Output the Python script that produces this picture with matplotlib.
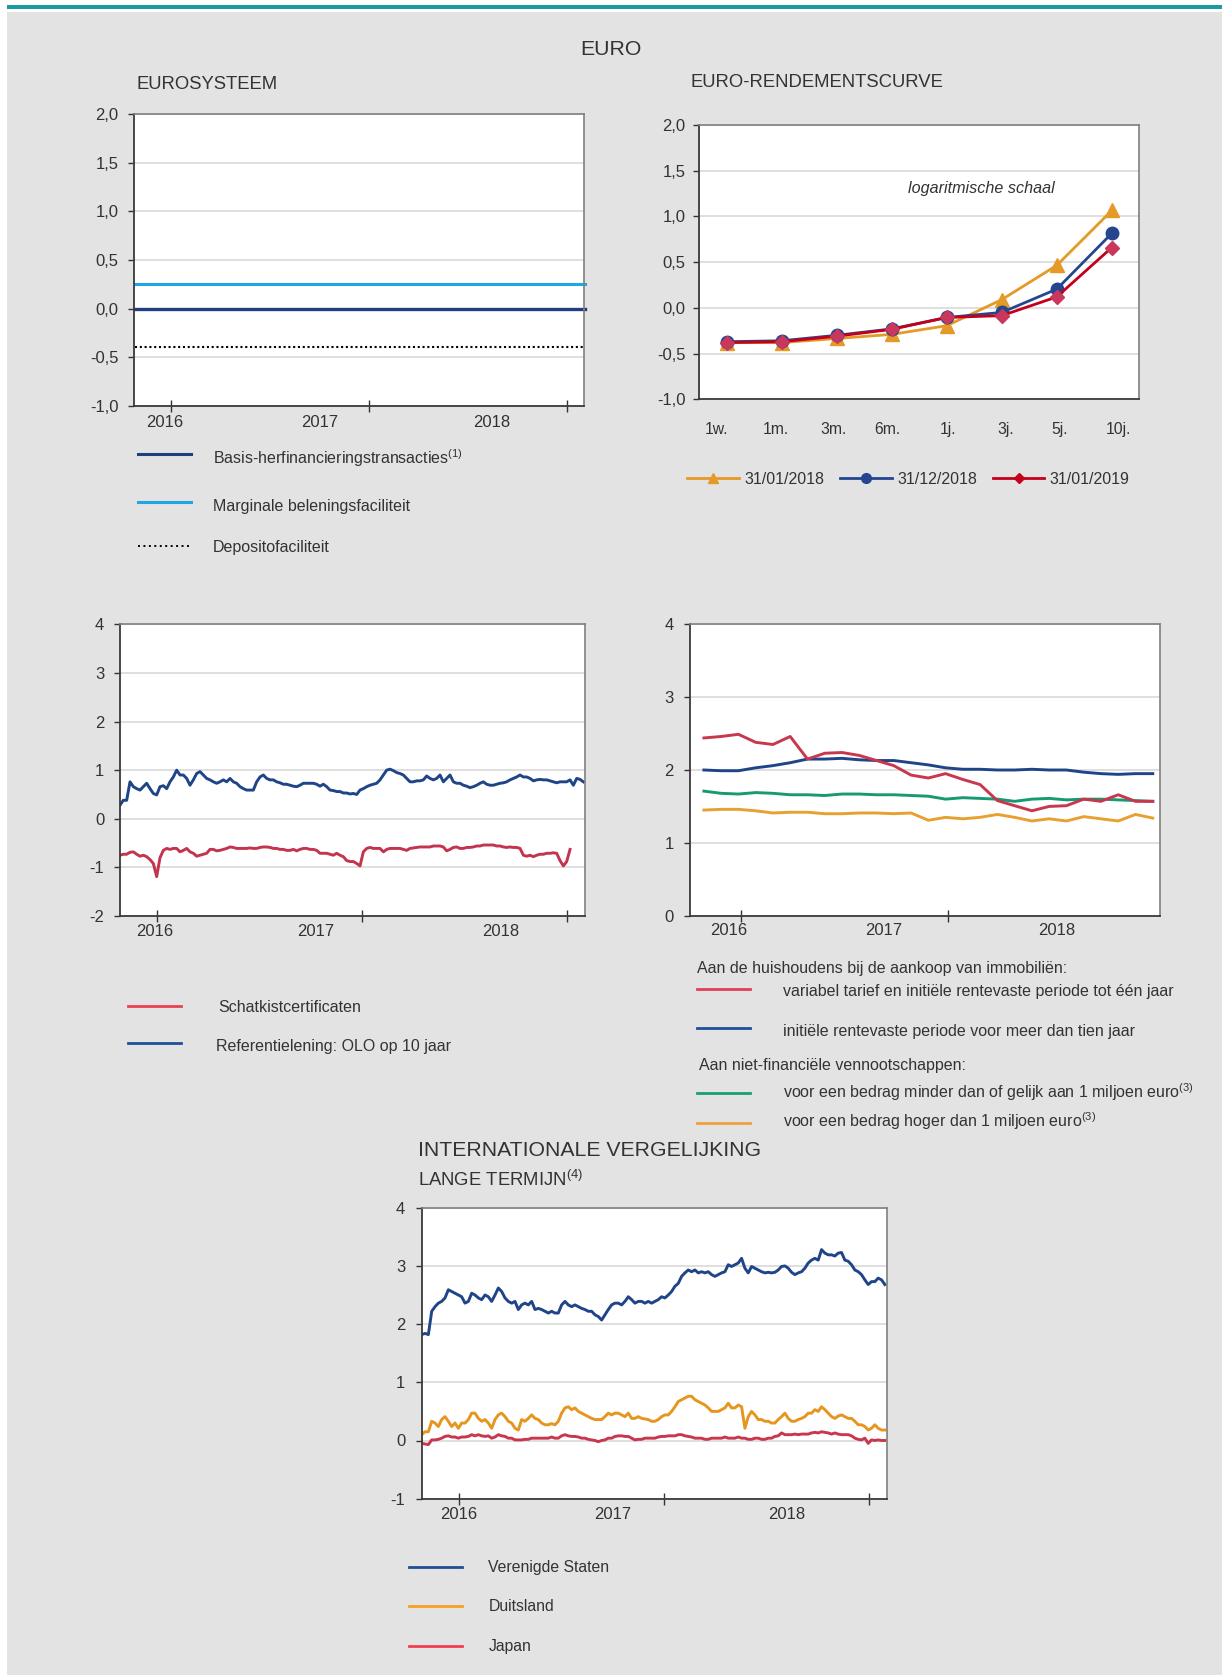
import numpy as np
import matplotlib
matplotlib.use('Agg')
import matplotlib.pyplot as plt
from matplotlib.lines import Line2D
from matplotlib.patches import Rectangle

plt.rcParams['font.family'] = ['Liberation Sans', 'DejaVu Sans']
plt.rcParams['mathtext.fontset'] = 'custom'
plt.rcParams['mathtext.rm'] = 'Liberation Sans'
plt.rcParams['mathtext.it'] = 'Liberation Sans:italic'
plt.rcParams['axes.unicode_minus'] = False

W, H = 1222, 1675
TXT = '#333333'

# ---------------- data ----------------
# Eurosysteem: policy rates, flat over the whole period
ecb_dates = [2015.82, 2018.09]
basis_rate = [0.00, 0.00]
marginal_rate = [0.25, 0.25]
deposit_rate = [-0.40, -0.40]

# Euro yield curve
maturities = ['1w.', '1m.', '3m.', '6m.', '1j.', '3j.', '5j.', '10j.']
curve_jan18 = [-0.38, -0.38, -0.335, -0.29, -0.195, 0.09, 0.465, 1.065]
curve_dec18 = [-0.37, -0.36, -0.30, -0.23, -0.105, -0.05, 0.205, 0.815]
curve_jan19 = [-0.38, -0.37, -0.31, -0.235, -0.105, -0.085, 0.12, 0.66]

# Belgian rates (daily, sampled)
olo_start, olo_end = 2015.818, 2018.078
olo_10y = [
    0.28, 0.38, 0.38, 0.76, 0.66, 0.62, 0.59, 0.66, 0.73, 0.62,
    0.52, 0.49, 0.66, 0.68, 0.62, 0.76, 0.86, 1.00, 0.90, 0.90,
    0.83, 0.69, 0.80, 0.93, 0.97, 0.90, 0.83, 0.80, 0.76, 0.73,
    0.76, 0.80, 0.76, 0.83, 0.76, 0.73, 0.66, 0.62, 0.59, 0.59,
    0.59, 0.76, 0.86, 0.90, 0.83, 0.80, 0.80, 0.76, 0.74, 0.71,
    0.71, 0.69, 0.67, 0.66, 0.69, 0.73, 0.73, 0.73, 0.73, 0.71,
    0.67, 0.71, 0.66, 0.59, 0.58, 0.56, 0.56, 0.53, 0.53, 0.51,
    0.52, 0.50, 0.59, 0.62, 0.66, 0.69, 0.71, 0.73, 0.80, 0.90,
    1.00, 1.02, 0.99, 0.95, 0.93, 0.90, 0.83, 0.76, 0.76, 0.78,
    0.78, 0.80, 0.88, 0.83, 0.80, 0.83, 0.90, 0.76, 0.83, 0.90,
    0.76, 0.73, 0.73, 0.69, 0.67, 0.64, 0.66, 0.69, 0.73, 0.76,
    0.71, 0.69, 0.69, 0.71, 0.73, 0.74, 0.76, 0.80, 0.83, 0.86,
    0.90, 0.86, 0.86, 0.83, 0.78, 0.80, 0.81, 0.80, 0.80, 0.78,
    0.76, 0.74, 0.76, 0.76, 0.76, 0.80, 0.69, 0.83, 0.81, 0.76]

tbill_start, tbill_end = 2015.818, 2018.013
tbill = [
    -0.75, -0.73, -0.73, -0.69, -0.68, -0.73, -0.77, -0.75, -0.78, -0.84,
    -0.92, -1.19, -0.80, -0.65, -0.61, -0.63, -0.61, -0.61, -0.68, -0.65,
    -0.61, -0.68, -0.71, -0.77, -0.75, -0.73, -0.71, -0.63, -0.63, -0.66,
    -0.65, -0.63, -0.61, -0.58, -0.59, -0.61, -0.61, -0.61, -0.61, -0.60,
    -0.61, -0.61, -0.59, -0.58, -0.58, -0.59, -0.61, -0.61, -0.63, -0.63,
    -0.65, -0.65, -0.63, -0.66, -0.63, -0.61, -0.61, -0.63, -0.63, -0.65,
    -0.71, -0.71, -0.71, -0.73, -0.75, -0.71, -0.75, -0.78, -0.86, -0.88,
    -0.88, -0.92, -0.97, -0.68, -0.61, -0.59, -0.61, -0.61, -0.61, -0.68,
    -0.63, -0.61, -0.61, -0.61, -0.61, -0.63, -0.65, -0.61, -0.60, -0.59,
    -0.58, -0.58, -0.58, -0.58, -0.56, -0.56, -0.56, -0.58, -0.66, -0.63,
    -0.59, -0.58, -0.61, -0.61, -0.59, -0.59, -0.58, -0.56, -0.56, -0.54,
    -0.54, -0.54, -0.54, -0.56, -0.56, -0.58, -0.59, -0.58, -0.59, -0.59,
    -0.61, -0.75, -0.77, -0.75, -0.78, -0.75, -0.73, -0.73, -0.71, -0.71,
    -0.70, -0.71, -0.86, -0.97, -0.88, -0.63]

# Bank rates (monthly)
bank_start, bank_end = 2015.822, 2017.989
mortgage_variable = [2.44, 2.46, 2.49, 2.38, 2.35, 2.46, 2.15, 2.23, 2.24, 2.20,
                     2.13, 2.06, 1.93, 1.89, 1.95, 1.87, 1.80, 1.58, 1.51, 1.44,
                     1.50, 1.51, 1.60, 1.57, 1.66, 1.57, 1.57]
mortgage_fixed10 = [2.00, 1.99, 1.99, 2.03, 2.06, 2.10, 2.15, 2.15, 2.16, 2.14,
                    2.13, 2.13, 2.10, 2.07, 2.03, 2.01, 2.01, 2.00, 2.00, 2.01,
                    2.00, 2.00, 1.97, 1.95, 1.94, 1.95, 1.95]
corp_small = [1.71, 1.68, 1.67, 1.69, 1.68, 1.66, 1.66, 1.65, 1.67, 1.67,
              1.66, 1.66, 1.65, 1.64, 1.60, 1.62, 1.61, 1.60, 1.57, 1.60,
              1.61, 1.59, 1.60, 1.60, 1.59, 1.58, 1.57]
corp_large = [1.45, 1.46, 1.46, 1.44, 1.41, 1.42, 1.42, 1.40, 1.40, 1.41,
              1.41, 1.40, 1.41, 1.31, 1.35, 1.33, 1.35, 1.39, 1.35, 1.30,
              1.33, 1.30, 1.36, 1.33, 1.30, 1.39, 1.34]

# International long term rates (daily, sampled)
intl_start, intl_end = 2015.816, 2018.076
us_10y = [
    1.82, 1.84, 1.82, 2.22, 2.30, 2.36, 2.39, 2.45, 2.59, 2.56,
    2.53, 2.50, 2.47, 2.36, 2.39, 2.53, 2.50, 2.45, 2.42, 2.50,
    2.47, 2.39, 2.50, 2.62, 2.56, 2.45, 2.39, 2.36, 2.39, 2.25,
    2.33, 2.36, 2.33, 2.39, 2.25, 2.27, 2.25, 2.22, 2.19, 2.22,
    2.19, 2.19, 2.33, 2.39, 2.33, 2.30, 2.33, 2.30, 2.27, 2.25,
    2.22, 2.22, 2.16, 2.13, 2.07, 2.16, 2.25, 2.33, 2.36, 2.36,
    2.33, 2.39, 2.47, 2.42, 2.36, 2.39, 2.39, 2.36, 2.39, 2.36,
    2.39, 2.42, 2.47, 2.45, 2.50, 2.56, 2.65, 2.70, 2.82, 2.88,
    2.93, 2.90, 2.93, 2.88, 2.90, 2.88, 2.90, 2.85, 2.82, 2.85,
    2.88, 2.90, 3.02, 2.99, 3.02, 3.05, 3.13, 2.96, 2.88, 2.99,
    2.96, 2.93, 2.90, 2.88, 2.89, 2.88, 2.89, 2.93, 2.99, 3.00,
    2.96, 2.89, 2.85, 2.88, 2.90, 2.96, 3.05, 3.10, 3.13, 3.10,
    3.28, 3.22, 3.19, 3.19, 3.17, 3.22, 3.23, 3.10, 3.08, 3.02,
    2.93, 2.90, 2.85, 2.76, 2.68, 2.73, 2.73, 2.79, 2.76, 2.68]
de_10y = [
    0.10, 0.15, 0.15, 0.33, 0.30, 0.24, 0.36, 0.41, 0.33, 0.24,
    0.30, 0.21, 0.30, 0.30, 0.36, 0.47, 0.47, 0.38, 0.33, 0.36,
    0.30, 0.21, 0.36, 0.44, 0.47, 0.41, 0.33, 0.30, 0.21, 0.18,
    0.36, 0.33, 0.38, 0.44, 0.38, 0.36, 0.30, 0.27, 0.27, 0.29,
    0.27, 0.33, 0.47, 0.56, 0.58, 0.53, 0.56, 0.50, 0.47, 0.44,
    0.41, 0.38, 0.36, 0.36, 0.36, 0.41, 0.47, 0.44, 0.47, 0.47,
    0.44, 0.41, 0.47, 0.38, 0.38, 0.41, 0.38, 0.37, 0.36, 0.33,
    0.33, 0.36, 0.41, 0.44, 0.44, 0.50, 0.58, 0.67, 0.70, 0.73,
    0.76, 0.76, 0.70, 0.67, 0.64, 0.61, 0.56, 0.50, 0.50, 0.50,
    0.53, 0.56, 0.64, 0.56, 0.56, 0.61, 0.58, 0.21, 0.41, 0.50,
    0.44, 0.36, 0.36, 0.33, 0.33, 0.30, 0.30, 0.36, 0.41, 0.47,
    0.38, 0.33, 0.33, 0.36, 0.38, 0.41, 0.47, 0.47, 0.53, 0.50,
    0.58, 0.53, 0.47, 0.41, 0.38, 0.42, 0.44, 0.41, 0.38, 0.38,
    0.33, 0.27, 0.27, 0.24, 0.18, 0.21, 0.27, 0.21, 0.18, 0.18]
jp_10y = [
    -0.05, -0.06, -0.07, 0.01, 0.01, 0.02, 0.04, 0.07, 0.08, 0.06,
    0.06, 0.04, 0.06, 0.06, 0.07, 0.10, 0.08, 0.10, 0.08, 0.07,
    0.08, 0.04, 0.06, 0.10, 0.08, 0.07, 0.04, 0.04, 0.01, 0.01,
    0.01, 0.02, 0.02, 0.04, 0.04, 0.04, 0.04, 0.04, 0.04, 0.06,
    0.04, 0.04, 0.08, 0.10, 0.08, 0.07, 0.07, 0.06, 0.04, 0.04,
    0.02, 0.01, 0.00, -0.02, 0.00, 0.01, 0.04, 0.04, 0.07, 0.08,
    0.08, 0.07, 0.07, 0.04, 0.01, 0.02, 0.02, 0.04, 0.04, 0.04,
    0.04, 0.06, 0.07, 0.07, 0.08, 0.08, 0.08, 0.10, 0.10, 0.08,
    0.07, 0.06, 0.04, 0.04, 0.04, 0.02, 0.02, 0.04, 0.04, 0.04,
    0.04, 0.06, 0.04, 0.04, 0.04, 0.06, 0.04, 0.04, 0.02, 0.02,
    0.04, 0.04, 0.02, 0.02, 0.04, 0.04, 0.07, 0.08, 0.13, 0.10,
    0.10, 0.10, 0.11, 0.10, 0.11, 0.11, 0.11, 0.13, 0.14, 0.13,
    0.15, 0.14, 0.13, 0.11, 0.13, 0.11, 0.10, 0.10, 0.10, 0.08,
    0.04, 0.02, 0.01, 0.04, -0.05, 0.01, 0.00, 0.01, 0.00, 0.00]

years = ['2016', '2017', '2018']

# ---------------- helpers ----------------
fig = plt.figure(figsize=(W / 100, H / 100), dpi=100)
fig.patch.set_facecolor('white')
fig.patches.append(Rectangle((7 / W, 0), 1 - 7 / W, 1 - 12 / H, transform=fig.transFigure,
                             facecolor='#e3e3e3', edgecolor='none', zorder=-10))
fig.patches.append(Rectangle((7 / W, 1 - 8.7 / H), 1 - 7 / W, 4 / H, transform=fig.transFigure,
                             facecolor='#1a9ba1', edgecolor='none', zorder=-9))


def add_ax(l, t, r, b):
    ax = fig.add_axes([l / W, 1 - b / H, (r - l) / W, (b - t) / H])
    ax.set_facecolor('white')
    for s in ['left', 'bottom']:
        ax.spines[s].set_color('#3a3a3a')
        ax.spines[s].set_linewidth(1.3)
    for s in ['top', 'right']:
        ax.spines[s].set_color('#808080')
        ax.spines[s].set_linewidth(1.2)
    ax.yaxis.grid(True, color='#dcdcdc', lw=1.3)
    ax.set_axisbelow(True)
    return ax


def y_axis(ax, lo, hi, step, comma=False, pad=7):
    ticks = np.arange(lo, hi + step / 2, step)
    ax.set_ylim(lo, hi)
    ax.set_yticks(ticks)
    if comma:
        ax.set_yticklabels([f'{t:.1f}'.replace('.', ',') for t in ticks])
    else:
        ax.set_yticklabels([f'{t:.0f}' for t in ticks])
    ax.tick_params(axis='y', direction='out', length=4.3, width=1, color='#333333',
                   labelsize=12, labelcolor=TXT, pad=pad)


def time_axis(ax, xlim, tick_years, label_pos, pad=6):
    ax.set_xlim(*xlim)
    ax.set_xticks(tick_years)
    ax.set_xticklabels([''] * len(tick_years))
    ax.tick_params(axis='x', which='major', direction='inout', length=8.5, width=1,
                   color='#333333')
    ax.set_xticks(label_pos, minor=True)
    ax.set_xticklabels(years, minor=True)
    ax.tick_params(axis='x', which='minor', length=0, labelsize=12, labelcolor=TXT, pad=pad)


def ftext(x, y, s, size, ha='left', **kw):
    base = y + 0.5 * size
    fig.text(x / W, 1 - base / H, s, fontsize=size, ha=ha, va='baseline', color=TXT, **kw)


def key(x0, x1, y, color, lw=2.0, ls='-', marker=None, ms=0):
    fig.add_artist(Line2D([x0 / W, x1 / W], [1 - y / H, 1 - y / H], color=color, lw=lw,
                          ls=ls, transform=fig.transFigure))
    if marker:
        fig.add_artist(Line2D([(x0 + x1) / 2 / W], [1 - y / H], marker=marker, ms=ms,
                              color=color, ls='none', transform=fig.transFigure))


# ---------------- titles ----------------
ftext(611, 47, 'EURO', 15.3, ha='center')
ftext(136.5, 82.7, 'EUROSYSTEEM', 13.3)
ftext(691, 80.7, 'EURO-RENDEMENTSCURVE', 13.3)

# ---------------- panel 1: Eurosysteem ----------------
ax1 = add_ax(134.4, 114.3, 584.4, 405.7)
ax1.plot(ecb_dates, deposit_rate, color='black', lw=1.5, ls=(0, (1.0, 1.3)), clip_on=False)
ax1.plot(ecb_dates, marginal_rate, color='#1ea7e4', lw=2.2, clip_on=False)
ax1.plot(ecb_dates, basis_rate, color='#1f3f80', lw=2.4, clip_on=False)
y_axis(ax1, -1.0, 2.0, 0.5, comma=True, pad=7)
time_axis(ax1, (2015.815, 2018.088), [2016, 2017, 2018], [2015.970, 2016.753, 2017.621], pad=7)

key(138, 190.7, 454.3, '#1f3f80', lw=2.2)
key(138, 190.7, 502, '#1ea7e4', lw=2.2)
key(138, 190.7, 546, 'black', lw=1.4, ls=(0, (1.0, 1.8)))
ftext(213, 458.3, 'Basis-herfinancieringstransacties$^{(1)}$', 11.5)
ftext(213, 505, 'Marginale beleningsfaciliteit', 11.5)
ftext(213, 546.7, 'Depositofaciliteit', 11.5)

# ---------------- panel 2: yield curve ----------------
ax2 = add_ax(699.2, 125, 1139.3, 399.3)
pos = np.arange(len(maturities))
ax2.plot(pos, curve_jan18, color='#e59a27', lw=2.0, marker='^', ms=10, zorder=3)
ax2.plot(pos, curve_dec18, color='#25468f', lw=2.0, marker='o', ms=9, zorder=4)
ax2.plot(pos, curve_jan19, color='#c4001a', lw=2.0, marker='D', ms=7,
         mfc='#c9385c', mec='#c9385c', zorder=5)
ax2.set_xlim(-0.5, 7.5)
# category labels sit a little apart from the points in the original
label_px = np.array([716.7, 776.0, 833.3, 887.3, 948.3, 1006.0, 1060.0, 1118.3])
ax2.set_xticks((label_px - 699.2) / 55.0 - 0.5)
ax2.set_xticklabels(maturities)
ax2.tick_params(axis='x', length=0, labelsize=11.3, labelcolor=TXT, pad=16)
y_axis(ax2, -1.0, 2.0, 0.5, comma=True, pad=5.7)
ftext(981.6, 187.7, 'logaritmische schaal', 11.6, ha='center', style='italic')

key(687, 738.6, 478.3, '#e59a27', marker='^', ms=7)
key(840, 891.7, 478.3, '#25468f', marker='o', ms=7)
key(993, 1044, 478.3, '#c4001a', marker='D', ms=5)
ftext(744, 478.3, '31/01/2018', 11.5)
ftext(897.5, 478.3, '31/12/2018', 11.5)
ftext(1049.4, 478.3, '31/01/2019', 11.5)

# ---------------- panel 3: Belgian government rates ----------------
ax3 = add_ax(120, 624.3, 585, 916)
ax3.plot(np.linspace(olo_start, olo_end, len(olo_10y)), olo_10y, color='#1f4488', lw=2.1)
ax3.plot(np.linspace(tbill_start, tbill_end, len(tbill)), tbill, color='#c3344e', lw=2.1)
y_axis(ax3, -2, 4, 1, pad=7)
time_axis(ax3, (2015.818, 2018.086), [2016, 2017, 2018], [2015.987, 2016.773, 2017.675], pad=5.5)

key(128, 181.4, 1005.7, '#e8424f')
key(128, 181.4, 1043.3, '#1f4e96')
ftext(218, 1006.7, 'Schatkistcertificaten', 11.5)
ftext(216, 1045.7, 'Referentielening: OLO op 10 jaar', 11.5)

# ---------------- panel 4: bank rates ----------------
ax4 = add_ax(689.6, 624.3, 1159.6, 915.7)
t_bank = np.linspace(bank_start, bank_end, len(mortgage_variable))
ax4.plot(t_bank, corp_large, color='#e8a030', lw=2.1)
ax4.plot(t_bank, corp_small, color='#169a72', lw=2.1)
ax4.plot(t_bank, mortgage_fixed10, color='#1f4488', lw=2.1)
ax4.plot(t_bank, mortgage_variable, color='#c8374d', lw=2.1)
y_axis(ax4, 0, 4, 1, pad=7)
time_axis(ax4, (2015.753, 2018.022), [2016, 2017], [2015.943, 2016.689, 2017.523], pad=5.5)

ftext(697.3, 967.7, 'Aan de huishoudens bij de aankoop van immobiliën:', 11.5)
key(697.3, 749.9, 989.3, '#e04058')
ftext(783.5, 990.7, 'variabel tarief en initiële rentevaste periode tot één jaar', 11.5)
key(697.3, 749.9, 1027.7, '#1f4e9a')
ftext(783.5, 1030, 'initiële rentevaste periode voor meer dan tien jaar', 11.5)
ftext(699.2, 1064.3, 'Aan niet-financiële vennootschappen:', 11.5)
key(697.3, 749.9, 1093.3, '#17a070')
ftext(783.5, 1092.7, 'voor een bedrag minder dan of gelijk aan 1 miljoen euro$^{(3)}$', 11.5)
key(697.3, 749.9, 1122.7, '#f0a040')
ftext(783.5, 1121.7, 'voor een bedrag hoger dan 1 miljoen euro$^{(3)}$', 11.5)

# ---------------- panel 5: international comparison ----------------
ftext(418.3, 1148.3, 'INTERNATIONALE VERGELIJKING', 15.3)
ftext(418, 1179.3, 'LANGE TERMIJN$^{(4)}$', 13.3)
ax5 = add_ax(421.7, 1207.7, 886.7, 1498.7)
t_intl = np.linspace(intl_start, intl_end, len(us_10y))
ax5.plot(t_intl, us_10y, color='#1f4488', lw=2.1)
ax5.plot(t_intl, de_10y, color='#e6951f', lw=2.1)
ax5.plot(t_intl, jp_10y, color='#c8374d', lw=2.1)
y_axis(ax5, -1, 4, 1, pad=7.5)
time_axis(ax5, (2015.816, 2018.085), [2016, 2017, 2018], [2015.995, 2016.748, 2017.597], pad=6)

key(409.3, 462.3, 1567, '#1f4e96')
key(409.3, 462.3, 1606, '#f5a020')
key(409.3, 462.3, 1646.3, '#f04050')
ftext(488.3, 1566.7, 'Verenigde Staten', 11.3)
ftext(488.3, 1605, 'Duitsland', 11.3)
ftext(488.3, 1645, 'Japan', 11.3)

fig.savefig('out.png', dpi=100)
